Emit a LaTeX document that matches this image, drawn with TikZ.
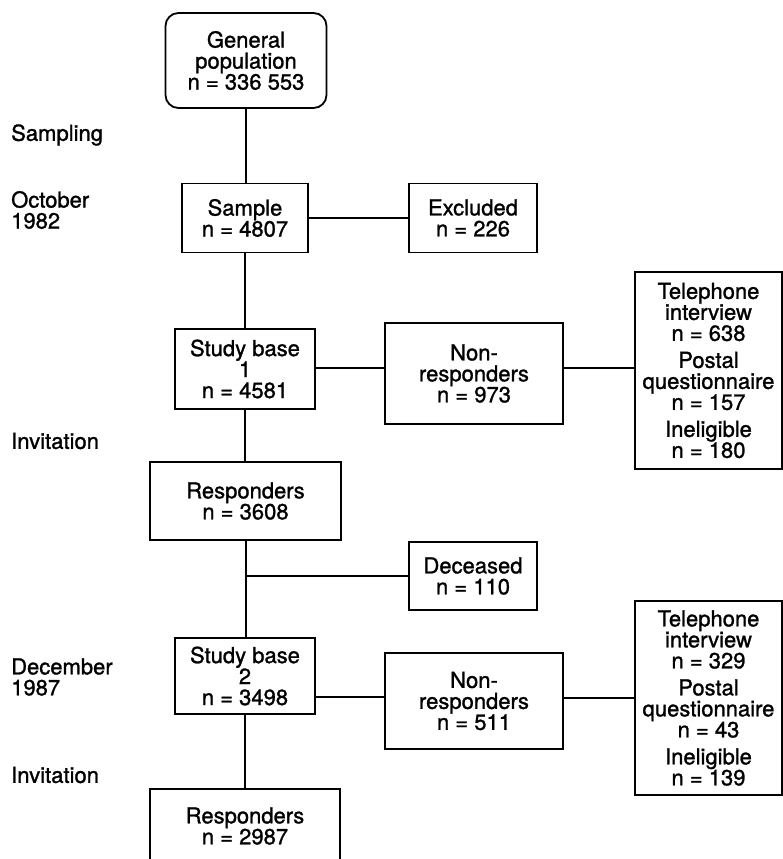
\documentclass[tikz,border=0pt]{standalone}
\usepackage{fontspec}
\setmainfont{TeX Gyre Heros}[FakeBold=1.2]
\begin{document}
\begin{tikzpicture}[x=1pt,y=-1pt,
  txt/.style={font=\fontsize{22pt}{21pt}\selectfont},
  box/.style={draw, line width=1.8pt, inner sep=0pt, align=center, txt},
  lbl/.style={inner sep=0pt, align=left, anchor=west, txt},
  conn/.style={line width=1.3pt}]
\useasboundingbox (0,0) rectangle (783,859);
% boxes
\node[box, rounded corners=13pt, minimum width=161pt, minimum height=95pt] (gen) at (246,60.5) {General\\population\\n = 336 553};
\node[box, minimum width=126pt, minimum height=69pt] (sample) at (245,218) {Sample\\n = 4807};
\node[box, minimum width=128pt, minimum height=69pt] (excl) at (473,218) {Excluded\\n = 226};
\node[box, minimum width=140pt, minimum height=80pt] (sb1) at (245,369) {Study base\\1\\n = 4581};
\node[box, minimum width=178pt, minimum height=101pt] (nr1) at (474,373.5) {Non-\\responders\\n = 973};
\node[box, minimum width=147pt, minimum height=197pt] (tel1) at (708.5,370.5) {Telephone\\interview\\n = 638\\[6pt]Postal\\questionnaire\\n = 157\\[6pt]Ineligible\\n = 180};
\node[box, minimum width=191pt, minimum height=78pt] (resp1) at (245.5,501) {Responders\\n = 3608};
\node[box, minimum width=128pt, minimum height=68pt] (dec) at (473,576) {Deceased\\n = 110};
\node[box, minimum width=140pt, minimum height=76pt] (sb2) at (245,676) {Study base\\2\\n = 3498};
\node[box, minimum width=178pt, minimum height=96pt] (nr2) at (474,701) {Non-\\responders\\n = 511};
\node[box, minimum width=147pt, minimum height=194pt] (tel2) at (708.5,698) {Telephone\\interview\\n = 329\\[6pt]Postal\\questionnaire\\n = 43\\[6pt]Ineligible\\n = 139};
\node[box, minimum width=190pt, minimum height=74pt] (resp2) at (245,826) {Responders\\n = 2987};
% left labels
\node[lbl] (l1) at (11,135) {Sampling};
\node[lbl] (l2) at (11,210) {October\\1982};
\node[lbl] (l3) at (11,441) {Invitation};
\node[lbl] (l4) at (11,677) {December\\1987};
\node[lbl] (l5) at (11,775) {Invitation};
% connectors
\coordinate (br) at (246,576);
\draw[conn] (gen.south) -- (gen.south |- sample.north);
\draw[conn] (sample.south) -- (sample.south |- sb1.north);
\draw[conn] (sb1.south) -- (sb1.south |- resp1.north);
\draw[conn] (resp1.south -| br) -- (br |- sb2.north);
\draw[conn] (br) -- (dec.west);
\draw[conn] (sb2.south) -- (sb2.south |- resp2.north);
\draw[conn] (sample.east) -- (excl.west);
\draw[conn] (sb1.east |- 0,368) -- (nr1.west |- 0,368);
\draw[conn] (nr1.east |- 0,368) -- (tel1.west |- 0,368);
\draw[conn] (sb2.east |- 0,697) -- (nr2.west |- 0,697);
\draw[conn] (nr2.east |- 0,698) -- (tel2.west |- 0,698);
\end{tikzpicture}
\end{document}
